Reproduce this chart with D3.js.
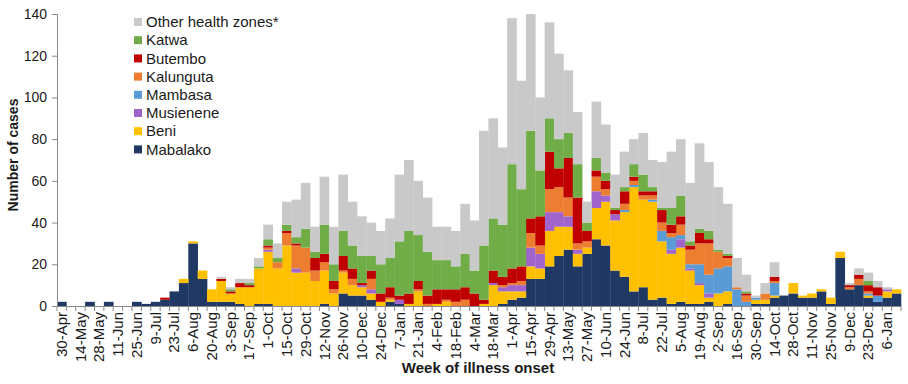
<!DOCTYPE html>
<html>
<head>
<meta charset="utf-8">
<script src="https://cdn.jsdelivr.net/npm/d3@7/dist/d3.min.js"></script>
<style>
  body { margin: 0; background: #fff; }
  text { font-family: "Liberation Sans Narrow", "Liberation Sans", sans-serif; fill: #1a1a1a; }
</style>
</head>
<body>
<div id="chart"></div>
<script>
// week labels, one every second week (90 weeks in total)
var tickLabels = ["30-Apr","14-May","28-May","11-Jun","25-Jun","9-Jul","23-Jul","6-Aug","20-Aug","3-Sep",
  "17-Sep","1-Oct","15-Oct","29-Oct","12-Nov","26-Nov","10-Dec","24-Dec","7-Jan","21-Jan",
  "4-Feb","18-Feb","4-Mar","18-Mar","1-Apr","15-Apr","29-Apr","13-May","27-May","10-Jun",
  "24-Jun","8-Jul","22-Jul","5-Aug","19-Aug","2-Sep","16-Sep","30-Sep","14-Oct","28-Oct",
  "11-Nov","25-Nov","9-Dec","23-Dec","6-Jan"];
var nWeeks = 90;

// cases per week, by health zone
var mabalako = [2,0,0,2,0,2,0,0,2,1, 2,3,7,11,30,13,2,2,2,1, 0,1,1,0,0,0,0,0,1,0,
  6,5,5,3,0,2,1,0,0,0, 0,0,0,0,0,0,0,1,3,4, 13,13,19,24,27,19,25,32,29,17,
  14,7,9,3,4,1,2,1,1,2, 0,1,0,0,1,1,4,5,6,4, 4,7,1,23,8,10,4,2,4,6];
var beni = [0,0,0,0,0,0,0,0,0,0, 0,0,0,2,1,4,6,10,4,8, 9,17,25,18,29,16,16,12,16,6,
  10,5,4,3,2,1,0,1,7,0, 1,2,0,0,0,1,10,6,4,3, 6,5,17,14,11,6,3,15,21,24,
  31,50,42,47,27,24,26,16,9,2, 6,6,0,0,2,2,1,0,5,1, 2,1,3,3,0,0,1,0,3,2];
var musienene = [0,0,0,0,0,0,0,0,0,0, 0,0,0,0,0,0,0,0,0,0, 0,0,1,0,0,2,0,0,0,0,
  0,0,1,2,0,0,2,0,0,0, 0,0,0,0,0,0,1,2,3,3, 9,7,9,7,5,2,0,8,3,3,
  0,0,0,0,0,2,4,1,1,2, 0,0,0,0,0,0,0,0,0,0, 0,0,0,0,0,0,0,0,1,0];
var mambasa = [0,0,0,0,0,0,0,0,0,0, 0,0,0,0,0,0,0,0,0,0, 0,0,0,0,0,0,0,0,0,0,
  0,0,0,0,0,0,0,0,0,0, 0,0,0,0,0,0,0,0,0,0, 0,0,0,0,0,0,0,0,0,0,
  1,1,0,1,5,6,2,2,9,9, 12,12,8,2,1,0,6,0,0,0, 0,0,0,0,0,0,1,3,0,0];
var kalunguta = [0,0,0,0,0,0,0,0,0,0, 0,0,0,0,0,0,0,0,0,0, 0,0,1,3,6,11,12,5,4,2,
  1,3,0,5,0,1,0,0,1,1, 0,1,2,3,0,0,0,1,1,2, 7,4,11,12,9,3,3,7,3,0,
  3,2,2,2,4,2,5,7,10,15, 8,4,1,3,0,3,1,0,0,0, 0,0,0,0,1,3,1,0,0,0];
var butembo = [0,0,0,0,0,0,0,0,0,0, 0,1,0,0,0,0,0,1,1,2, 1,0,1,0,1,1,0,6,4,4,
  7,5,1,4,4,5,2,5,4,4, 7,5,6,6,6,2,6,4,7,7, 7,14,18,9,19,22,5,3,4,2,
  6,2,2,2,6,4,4,2,5,2, 0,1,0,1,0,0,2,0,0,0, 0,0,0,0,1,2,3,4,0,0];
var katwa = [0,0,0,0,0,0,0,0,0,0, 0,0,0,0,0,0,0,0,1,0, 1,1,3,2,3,3,9,3,14,8,
  12,11,13,7,14,14,26,30,22,21, 14,14,11,16,11,26,25,25,50,37, 42,22,16,14,12,16,4,6,4,1,
  2,6,8,2,1,8,10,2,2,4, 1,1,0,1,0,0,0,0,0,0, 0,0,0,0,0,0,2,0,0,0];
var otherZones = [0,0,0,0,0,0,0,0,0,0, 0,0,0,0,0,0,0,1,1,2, 2,4,7,7,11,18,22,12,23,18,
  27,21,19,16,16,19,32,34,26,26, 16,16,17,24,24,55,48,37,70,52, 56,35,46,41,30,25,10,27,23,16,
  17,12,20,13,22,27,27,28,41,33, 30,24,14,8,1,5,7,0,0,0, 0,0,0,0,1,3,4,3,1,0];

var seriesNames = ["Mabalako","Beni","Musienene","Mambasa","Kalunguta","Butembo","Katwa","Other health zones*"];
var seriesValues = [mabalako, beni, musienene, mambasa, kalunguta, butembo, katwa, otherZones];
var colors = ["#203864","#FFC000","#A064CC","#5B9BD5","#ED7D31","#C00000","#70AD47","#C9C9C9"];

var W = 908, H = 384;
var margin = {top: 14, right: 7, bottom: 78, left: 57};

var svg = d3.select("#chart").append("svg")
  .attr("width", W).attr("height", H);

// build rows for the stack
var rows = d3.range(nWeeks).map(function(i) {
  var r = {week: i};
  seriesNames.forEach(function(n, j) { r[n] = seriesValues[j][i]; });
  return r;
});

var x = d3.scaleBand()
  .domain(d3.range(nWeeks))
  .range([margin.left, W - margin.right])
  .padding(0);

var y = d3.scaleLinear()
  .domain([0, 140])
  .range([H - margin.bottom, margin.top]);

var stacked = d3.stack().keys(seriesNames)(rows);

svg.append("g").selectAll("g")
  .data(stacked)
  .join("g")
    .attr("fill", function(d, i) { return colors[i]; })
  .selectAll("rect")
  .data(function(d) { return d; })
  .join("rect")
    .attr("x", function(d) { return x(d.data.week); })
    .attr("width", x.bandwidth() + 0.3)
    .attr("y", function(d) { return y(d[1]); })
    .attr("height", function(d) { return y(d[0]) - y(d[1]); });

// Y axis
var yAxis = svg.append("g")
  .attr("transform", "translate(" + margin.left + ",0)")
  .call(d3.axisLeft(y).tickValues(d3.range(0, 141, 20)).tickSize(5).tickPadding(5));
yAxis.selectAll("text").style("font-size", "14px");

// X axis: tick marks on every week boundary, labels on every second week
var xAxis = svg.append("g")
  .attr("transform", "translate(0," + y(0) + ")")
  .call(d3.axisBottom(x).tickSize(0).tickFormat(function(d) {
    return d % 2 === 0 ? tickLabels[d / 2] : "";
  }));
xAxis.selectAll("text")
  .style("font-size", "15px")
  .attr("text-anchor", "end")
  .attr("transform", "rotate(-90)")
  .attr("x", -6)
  .attr("y", 0)
  .attr("dy", "0.35em");

xAxis.append("g").selectAll("line")
  .data(d3.range(nWeeks + 1))
  .join("line")
    .attr("x1", function(d) { return margin.left + d * x.step(); })
    .attr("x2", function(d) { return margin.left + d * x.step(); })
    .attr("y1", 0).attr("y2", 5)
    .attr("stroke", "#888");

svg.selectAll(".domain").attr("stroke", "#888");
yAxis.selectAll(".tick line").attr("stroke", "#888");

// axis titles
svg.append("text")
  .attr("transform", "translate(18,155) rotate(-90)")
  .attr("text-anchor", "middle")
  .style("font-size", "14px")
  .style("font-weight", "bold")
  .text("Number of cases");

svg.append("text")
  .attr("x", 478).attr("y", 373)
  .attr("text-anchor", "middle")
  .style("font-size", "15px")
  .style("font-weight", "bold")
  .text("Week of illness onset");

// legend, top series first
var legend = svg.append("g").attr("transform", "translate(134,18)");
var order = d3.range(seriesNames.length).reverse();
var item = legend.selectAll("g")
  .data(order)
  .join("g")
    .attr("transform", function(d, i) { return "translate(0," + (i * 18.2) + ")"; });
item.append("rect")
  .attr("width", 8).attr("height", 8)
  .attr("fill", function(d) { return colors[d]; });
item.append("text")
  .attr("x", 12).attr("y", 4)
  .attr("dy", "0.35em")
  .style("font-size", "15px")
  .text(function(d) { return seriesNames[d]; });
</script>
</body>
</html>
